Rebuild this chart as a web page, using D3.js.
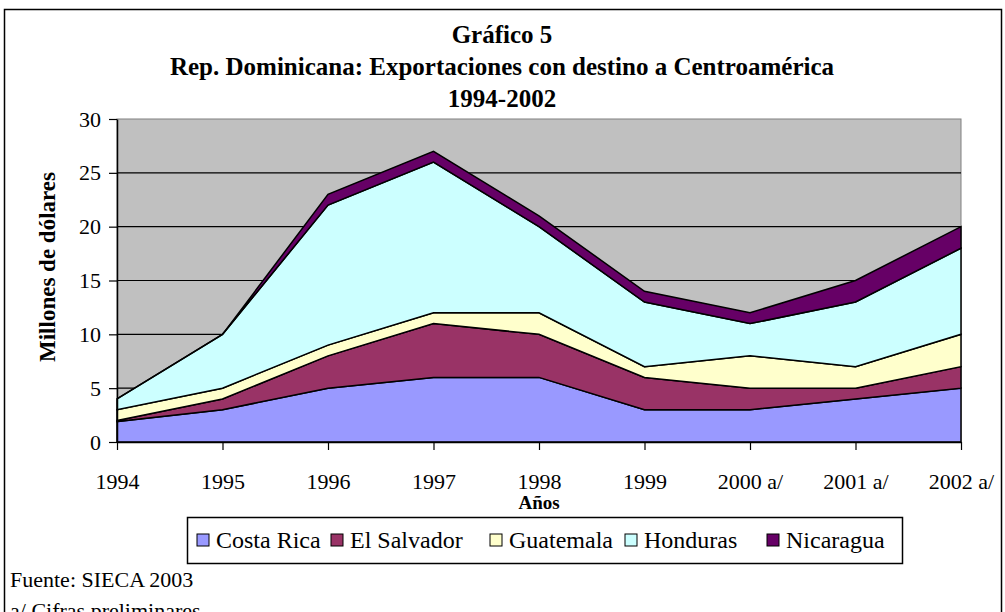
<!DOCTYPE html>
<html>
<head>
<meta charset="utf-8">
<script src="https://cdn.jsdelivr.net/npm/d3@7"></script>
<style>
  body { margin: 0; background: #fff; }
  text { font-family: "Liberation Serif", "Times New Roman", serif; }
</style>
</head>
<body>
<div id="chart"></div>
<script>
"use strict";

var years = ["1994", "1995", "1996", "1997", "1998", "1999", "2000 a/", "2001 a/", "2002 a/"];
var countries = ["Costa Rica", "El Salvador", "Guatemala", "Honduras", "Nicaragua"];
var costaRica  = [1.9, 3, 5, 6, 6, 3, 3, 4, 5];
var elSalvador = [0.1, 1, 3, 5, 4, 3, 2, 1, 2];
var guatemala  = [1, 1, 1, 1, 2, 1, 3, 2, 3];
var honduras   = [1, 5, 13, 14, 8, 6, 3, 6, 8];
var nicaragua  = [0, 0, 1, 1, 1, 1, 1, 2, 2];
var yTicks = [0, 5, 10, 15, 20, 25, 30];
var colors = ["#9999ff", "#993366", "#ffffcc", "#ccffff", "#660066"];

var width = 1005, height = 612;
var plotLeft = 117, plotRight = 961, plotTop = 119, plotBottom = 442;

var rows = years.map(function (y, i) {
    return {
        year: y,
        "Costa Rica": costaRica[i],
        "El Salvador": elSalvador[i],
        "Guatemala": guatemala[i],
        "Honduras": honduras[i],
        "Nicaragua": nicaragua[i]
    };
});

var svg = d3.select("#chart")
    .append("svg")
    .attr("width", width)
    .attr("height", height);

// outer frame
svg.append("rect")
    .attr("x", 4.5).attr("y", 9.5)
    .attr("width", 997).attr("height", 620)
    .attr("fill", "none")
    .attr("stroke", "#000")
    .attr("stroke-width", 1.5);

var x = d3.scalePoint().domain(years).range([plotLeft, plotRight]);
var y = d3.scaleLinear().domain([0, 30]).range([plotBottom, plotTop]);

svg.append("rect")
    .attr("x", plotLeft).attr("y", plotTop)
    .attr("width", plotRight - plotLeft).attr("height", plotBottom - plotTop)
    .attr("fill", "#c0c0c0")
    .attr("stroke", "#808080");

// gridlines
svg.selectAll("line.grid")
    .data(yTicks.filter(function (d) { return d > 0 && d < 30; }))
    .enter()
    .append("line")
    .attr("class", "grid")
    .attr("x1", plotLeft).attr("x2", plotRight)
    .attr("y1", function (d) { return y(d); })
    .attr("y2", function (d) { return y(d); })
    .attr("stroke", "#000")
    .attr("stroke-width", 1.2);

var stack = d3.stack().keys(countries);
var series = stack(rows);

var area = d3.area()
    .x(function (d) { return x(d.data.year); })
    .y0(function (d) { return y(d[0]); })
    .y1(function (d) { return y(d[1]); });

svg.selectAll("path.layer")
    .data(series)
    .enter()
    .append("path")
    .attr("class", "layer")
    .attr("d", area)
    .attr("fill", function (d, i) { return colors[i]; })
    .attr("stroke", "#000")
    .attr("stroke-width", 1.5)
    .attr("stroke-linejoin", "miter");

// axes
var yAxis = svg.append("g")
    .attr("transform", "translate(" + plotLeft + ",0)")
    .call(d3.axisLeft(y).tickValues(yTicks).tickSize(8).tickSizeOuter(0).tickPadding(8));

var xAxis = svg.append("g")
    .attr("transform", "translate(0," + plotBottom + ")")
    .call(d3.axisBottom(x).tickSize(8).tickSizeOuter(0).tickPadding(23));

[yAxis, xAxis].forEach(function (g) {
    g.select(".domain").attr("stroke", "#000").attr("stroke-width", 1.5);
    g.selectAll(".tick line").attr("stroke", "#000").attr("stroke-width", 1.2);
    g.selectAll(".tick text")
        .attr("fill", "#000")
        .attr("font-family", "Liberation Serif, serif")
        .attr("font-size", "22px");
});

// titles
var titles = ["Gráfico 5", "Rep. Dominicana: Exportaciones con destino a Centroamérica", "1994-2002"];
svg.selectAll("text.title")
    .data(titles)
    .enter()
    .append("text")
    .attr("class", "title")
    .attr("x", 502)
    .attr("y", function (d, i) { return 43 + i * 32; })
    .attr("text-anchor", "middle")
    .attr("font-size", "25px")
    .attr("font-weight", "bold")
    .text(function (d) { return d; });

svg.append("text")
    .attr("transform", "translate(55,267) rotate(-90)")
    .attr("text-anchor", "middle")
    .attr("font-size", "23px")
    .attr("font-weight", "bold")
    .text("Millones de dólares");

svg.append("text")
    .attr("x", 539)
    .attr("y", 509)
    .attr("text-anchor", "middle")
    .attr("font-size", "19px")
    .attr("font-weight", "bold")
    .text("Años");

// legend
var legend = svg.append("g");
legend.append("rect")
    .attr("x", 187.5).attr("y", 517.5)
    .attr("width", 715).attr("height", 46)
    .attr("fill", "#fff")
    .attr("stroke", "#000")
    .attr("stroke-width", 1.5);

var legendX = [197, 331, 490, 625, 767];
var items = legend.selectAll("g.item")
    .data(countries)
    .enter()
    .append("g")
    .attr("class", "item")
    .attr("transform", function (d, i) { return "translate(" + legendX[i] + ",540)"; });

items.append("rect")
    .attr("x", 0).attr("y", -6)
    .attr("width", 12).attr("height", 12)
    .attr("fill", function (d, i) { return colors[i]; })
    .attr("stroke", "#000")
    .attr("stroke-width", 1);

items.append("text")
    .attr("x", 19)
    .attr("y", 8)
    .attr("font-size", "24px")
    .text(function (d) { return d; });

svg.append("text")
    .attr("x", 10).attr("y", 587)
    .attr("font-size", "22px")
    .text("Fuente: SIECA 2003");

svg.append("text")
    .attr("x", 10).attr("y", 618)
    .attr("font-size", "22px")
    .text("a/ Cifras preliminares");
</script>
</body>
</html>
